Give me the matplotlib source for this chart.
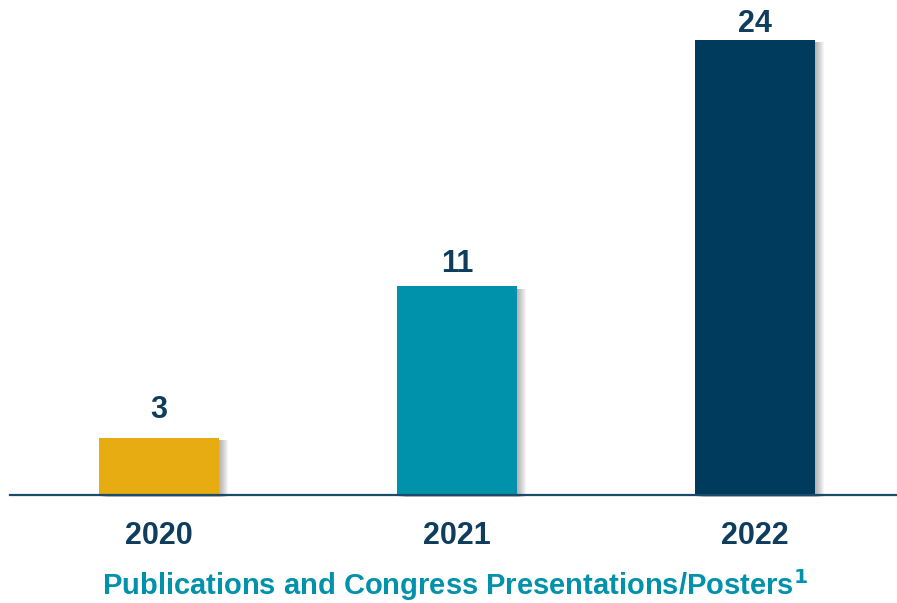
import matplotlib.pyplot as plt
from matplotlib.patches import Rectangle

# Data
years = ['2020', '2021', '2022']
counts = [3, 11, 24]
colors = ['#E6AC12', '#0091AB', '#003A5C']
label_pad = [20, 14, 8]  # px gap between bar top and value label baseline

navy = '#0F3D5E'
teal = '#0091AB'

plt.rcParams['font.family'] = ['Liberation Sans', 'DejaVu Sans']

fig = plt.figure(figsize=(8.97, 6.03), dpi=100)
ax = fig.add_axes([10 / 897, 108 / 603, 887 / 897, 495 / 603])

x = list(range(len(years)))
width = 120 / 298

# soft drop shadow to the right of each bar
for xi, v in zip(x, counts):
    for k in range(1, 10):
        off = k * 1.0 / 298
        ax.add_patch(Rectangle((xi - width / 2 + off, -0.12), width, v,
                               color='#505050', alpha=0.055, lw=0, zorder=1,
                               clip_on=False))

ax.bar(x, counts, width=width, color=colors, zorder=2)

for xi, v, pad in zip(x, counts, label_pad):
    ax.annotate(str(v), (xi, v), xytext=(0, pad * 0.72), textcoords='offset points',
                ha='center', va='baseline', fontsize=22, fontweight='bold', color=navy)

ax.set_xlim(-0.5, 2.477)
ax.set_ylim(0, 26.1)

for s in ['top', 'right', 'left']:
    ax.spines[s].set_visible(False)
ax.spines['bottom'].set_color('#1B4A6B')
ax.spines['bottom'].set_linewidth(1.6)
ax.spines['bottom'].set_zorder(3)
ax.set_yticks([])
ax.set_xticks(x)
ax.set_xticklabels(years, fontsize=22, fontweight='bold', color=navy)
ax.tick_params(axis='x', length=0, pad=19)

fig.text(455 / 897, 1 - 595 / 603,
         'Publications and Congress Presentations/Posters$^{\\mathbf{1}}$',
         ha='center', va='baseline', fontsize=21, fontweight='bold', color=teal)

fig.savefig('out.png', dpi=100)
